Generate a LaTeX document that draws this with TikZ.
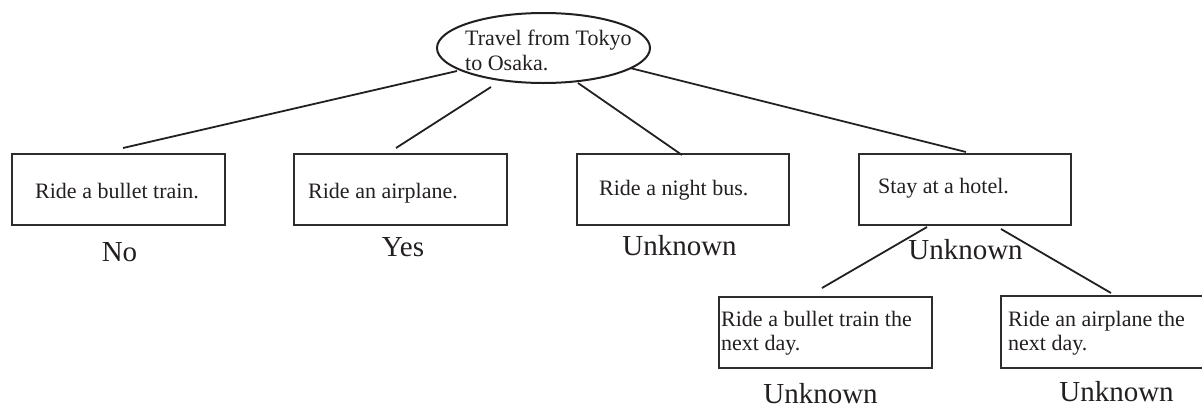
\documentclass[tikz,border=0pt]{standalone}
\usepackage{fontspec}
\setmainfont{Liberation Serif}
\usetikzlibrary{shapes.geometric,calc}
\definecolor{ink}{RGB}{35,31,32}
\definecolor{frame}{RGB}{45,45,45}
\tikzset{
  boxnode/.style={draw=frame,line width=2pt,rectangle,inner sep=0pt,minimum height=71pt},
  rootnode/.style={draw=ink,line width=2pt,ellipse,inner sep=0pt,minimum width=213pt,minimum height=70pt},
  boxtext/.style={anchor=base west,inner sep=0pt,text=ink,font=\fontsize{22}{24}\selectfont},
  verdict/.style={anchor=base,inner sep=0pt,text=ink,font=\fontsize{29}{32}\selectfont},
  link/.style={draw=ink,line width=1.8pt}
}
\begin{document}
\begin{tikzpicture}[x=1pt,y=-1pt]
\useasboundingbox (0,0) rectangle (1202,405);
% nodes
\node[rootnode] (root) at (543.5,48) {};
\node[boxnode,minimum width=213pt] (b1) at (118.5,189.5) {};
\node[boxnode,minimum width=213pt] (b2) at (400.5,189.5) {};
\node[boxnode,minimum width=212pt] (b3) at (683,189.5) {};
\node[boxnode,minimum width=212pt] (b4) at (965,189.5) {};
\node[boxnode,minimum width=213pt,minimum height=71pt] (b5) at (825.5,332.5) {};
\node[boxnode,minimum width=213pt,minimum height=72pt] (b6) at (1107.5,332) {};
% texts
\node[boxtext] (t0a) at (465,45) {Travel from Tokyo};
\node[boxtext] (t0b) at (465,70) {to Osaka.};
\node[boxtext] (t1) at (35,198) {Ride a bullet train.};
\node[boxtext] (t2) at (308,198) {Ride an airplane.};
\node[boxtext] (t3) at (599,195) {Ride a night bus.};
\node[boxtext] (t4) at (878,193) {Stay at a hotel.};
\node[boxtext] (t5a) at (721,326) {Ride a bullet train the};
\node[boxtext] (t5b) at (721,350) {next day.};
\node[boxtext] (t6a) at (1008,326) {Ride an airplane the};
\node[boxtext] (t6b) at (1008,350) {next day.};
% verdicts
\node[verdict] (v1) at (119.5,261) {No};
\node[verdict] (v2) at (403,256.5) {Yes};
\node[verdict] (v3) at (679.5,255.5) {Unknown};
\node[verdict] (v4) at (965.5,259) {Unknown};
\node[verdict] (v5) at (820.5,403) {Unknown};
\node[verdict] (v6) at (1116.5,401) {Unknown};
% connectors
\draw[link] ($(b1.north west)+(112,-5)$) -- ($(root.center)+(-86.5,23)$);
\draw[link] ($(b2.north west)+(103,-5)$) -- ($(root.center)+(-52.5,39)$);
\draw[link] ($(b3.north west)+(106,2)$) -- ($(root.center)+(34.5,35)$);
\draw[link] ($(root.center)+(86.5,20)$) -- ($(b4.north west)+(108,-1)$);
\draw[link] ($(b4.south west)+(69,1)$) -- ($(b5.north west)+(104,-8)$);
\draw[link] ($(b4.south west)+(143,3)$) -- ($(b6.north west)+(111,-2)$);
\end{tikzpicture}
\end{document}
